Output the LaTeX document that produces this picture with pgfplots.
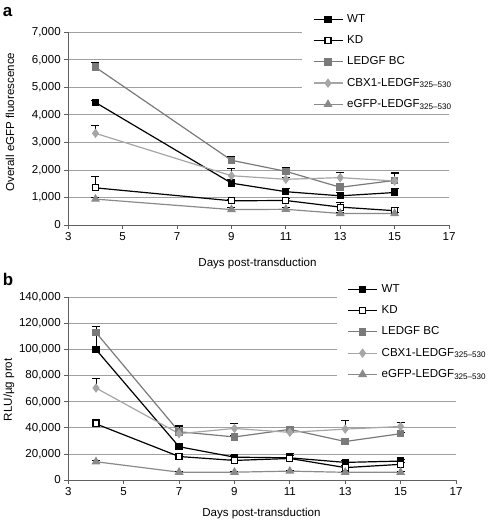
\documentclass[border=0pt]{standalone}
\usepackage{fontspec}
\setmainfont{Liberation Sans}
\usepackage{pgfplots}
\pgfplotsset{compat=1.18}
\definecolor{gridc}{HTML}{A0A0A0}
\definecolor{axc}{HTML}{606060}
\definecolor{sqc}{HTML}{7A7A7A}
\definecolor{diac}{HTML}{A6A6A6}
\definecolor{tric}{HTML}{8A8A8A}
\newcommand{\fs}{\fontsize{11.6}{13}\selectfont}
\pgfplotsset{
 myax/.style={
  scale only axis,
  xmin=3, xmax=17, xtick={3,5,...,17},
  ymin=0,
  axis x line*=bottom, axis y line*=left,
  axis line style={-, axc, line width=0.8bp},
  tick style={axc, line width=0.8bp},
  tick align=outside, major tick length=4bp,
  ymajorgrids, grid style={gridc, line width=0.8bp},
  scaled y ticks=false,
  tick label style={font=\fs},
  /pgf/number format/fixed,
  /pgf/number format/1000 sep={,},
  /pgf/number format/assume math mode=true,
  legend cell align=left,
  legend image code/.code={\draw[mark repeat=2,mark phase=2] plot coordinates {(0bp,0bp) (14.5bp,0bp) (29bp,0bp)};},
  legend style={draw=none, fill=white, font=\fs, anchor=north west,
    inner xsep=10.7bp, inner ysep=2bp,
    nodes={font=\fs, inner sep=0bp, text height=8.5bp, text depth=2.5bp},
    row sep=10.3bp,
    /tikz/every odd column/.append style={column sep=4bp}},
  error bars/y dir=plus, error bars/y explicit,
  error bars/error bar style={black, line width=0.9bp},
  error bars/error mark options={rotate=90, black, line width=0.9bp, mark size=4bp},
 },
 wt/.style={black, line width=1.2bp, mark=square*, mark size=3bp, mark options={solid, fill=black, draw=black}},
 kd/.style={black, line width=1.2bp, mark=square*, mark size=3bp, mark options={solid, fill=white, draw=black}},
 bc/.style={sqc, line width=1.2bp, mark=square*, mark size=3.2bp, mark options={solid, fill=sqc, draw=sqc}},
 cbx/.style={diac, line width=1.2bp, mark=diamond*, mark size=3.8bp, mark options={solid, fill=diac, draw=diac}},
 egfp/.style={tric, line width=1.2bp, mark=triangle*, mark size=4bp, mark options={solid, fill=tric, draw=tric}},
}
\begin{document}
\begin{tikzpicture}
\useasboundingbox (0,0) rectangle (488bp,-522bp);
\node[font=\fontsize{17}{19}\selectfont\bfseries] at (7.5bp,-12bp) {a};
\node[font=\fontsize{17}{19}\selectfont\bfseries] at (8bp,-279bp) {b};
% Panel a
\begin{axis}[myax,
  at={(68.3bp,-225bp)}, anchor=south west,
  width=380.7bp, height=192.7bp,
  ymax=7000, ytick={0,1000,...,7000},
  xlabel={Days post-transduction},
  ylabel={Overall eGFP fluorescence},
  every axis x label/.style={at={(axis description cs:0.497,-0.199)}, anchor=center, font=\fs},
  every axis y label/.style={at={(axis description cs:-0.153,0.534)}, rotate=90, anchor=center, font=\fs},
  legend style={at={(axis description cs:0.6139,1.108)}},
]
\addplot[wt] table[x=x,y=y,y error=e] {
x y e
4 4450 60
9 1520 130
11 1210 130
13 1060 140
15 1180 150
};
\addlegendentry{\fs WT}
\addplot[kd] table[x=x,y=y,y error=e] {
x y e
4 1350 400
9 880 60
11 890 60
13 650 170
15 520 110
};
\addlegendentry{\fs KD}
\addplot[bc] table[x=x,y=y,y error=e] {
x y e
4 5730 180
9 2350 150
11 1950 150
13 1370 60
15 1620 300
};
\addlegendentry{\fs LEDGF BC}
\addplot[cbx] table[x=x,y=y,y error=e] {
x y e
4 3330 300
9 1790 250
11 1660 60
13 1720 200
15 1600 280
};
\addlegendentry{\fs CBX1-LEDGF\textsubscript{325--530}}
\addplot[egfp] table[x=x,y=y,y error=e] {
x y e
4 940 50
9 560 80
11 570 60
13 420 50
15 420 50
};
\addlegendentry{\fs eGFP-LEDGF\textsubscript{325--530}}
\end{axis}
% Panel b
\begin{axis}[myax,
  at={(68.3bp,-480bp)}, anchor=south west,
  width=387.7bp, height=182.7bp,
  ymax=140000, ytick={0,20000,...,140000},
  xlabel={Days post-transduction},
  ylabel={RLU/µg prot},
  every axis x label/.style={at={(axis description cs:0.498,-0.182)}, anchor=center, font=\fs},
  every axis y label/.style={at={(axis description cs:-0.153,0.494)}, rotate=90, anchor=center, font=\fs},
  legend style={at={(axis description cs:0.692,1.0865)}},
]
\addplot[wt] table[x=x,y=y,y error=e] {
x y e
4 100000 11500
7 25500 1500
9 17500 1500
11 17000 2000
13 13500 1500
15 14500 1500
};
\addlegendentry{\fs WT}
\addplot[kd] table[x=x,y=y,y error=e] {
x y e
4 43000 3500
7 18000 1000
9 15000 1000
11 16500 4000
13 9500 1500
15 12000 1500
};
\addlegendentry{\fs KD}
\addplot[bc] table[x=x,y=y,y error=e] {
x y e
4 113000 4500
7 37000 4000
9 33000 1500
11 38800 1500
13 29500 1000
15 35500 1000
};
\addlegendentry{\fs LEDGF BC}
\addplot[cbx] table[x=x,y=y,y error=e] {
x y e
4 70500 7500
7 35500 6500
9 39500 4000
11 36500 3000
13 39000 7000
15 41000 3000
};
\addlegendentry{\fs CBX1-LEDGF\textsubscript{325--530}}
\addplot[egfp] table[x=x,y=y,y error=e] {
x y e
4 14000 1000
7 6000 500
9 6000 500
11 6800 500
13 5900 500
15 5900 500
};
\addlegendentry{\fs eGFP-LEDGF\textsubscript{325--530}}
\end{axis}
\end{tikzpicture}
\end{document}
